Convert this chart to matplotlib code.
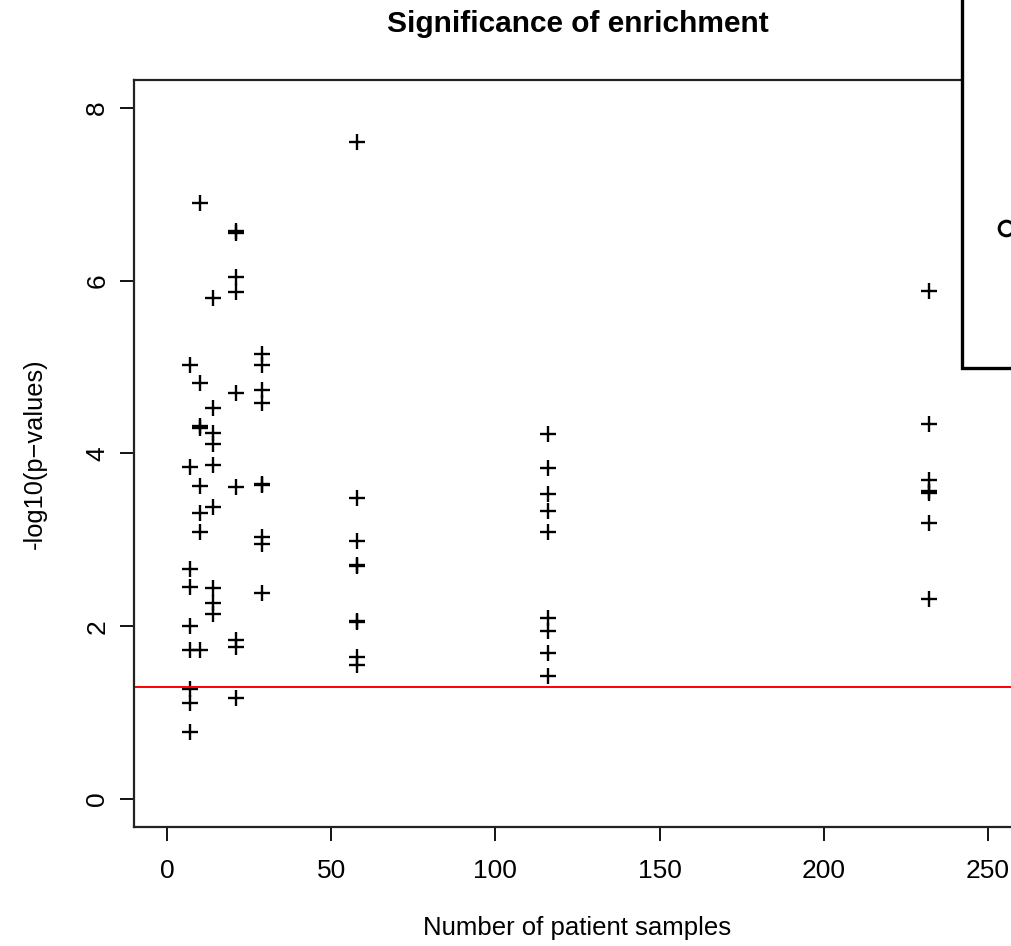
import matplotlib
matplotlib.use('Agg')
import matplotlib.pyplot as plt
from matplotlib.patches import Rectangle
from matplotlib.lines import Line2D

plt.rcParams['font.family'] = ['Liberation Sans', 'DejaVu Sans']

# number of patient samples per group and the -log10(p) of each test
samples = [7, 10, 14, 21, 29, 58, 116, 232]
pvals_7 = [5.02, 3.84, 2.66, 2.45, 2.00, 1.73, 1.27, 1.11, 0.78]
pvals_10 = [6.90, 4.81, 4.32, 4.29, 3.62, 3.31, 3.09, 1.73]
pvals_14 = [5.80, 4.52, 4.24, 4.11, 3.87, 3.38, 2.44, 2.27, 2.14]
pvals_21 = [6.57, 6.55, 6.04, 5.87, 4.70, 3.61, 1.84, 1.76, 1.17]
pvals_29 = [5.15, 5.02, 4.73, 4.58, 3.65, 3.63, 3.03, 2.95, 2.38]
pvals_58 = [7.60, 3.48, 2.99, 2.71, 2.70, 2.06, 2.05, 1.64, 1.55]
pvals_116 = [4.22, 3.83, 3.53, 3.33, 3.09, 2.09, 1.94, 1.69, 1.42]
pvals_232 = [5.88, 4.34, 3.69, 3.56, 3.54, 3.20, 2.31]
groups = [pvals_7, pvals_10, pvals_14, pvals_21, pvals_29, pvals_58, pvals_116, pvals_232]
cutoff = 1.301  # -log10(0.05)

W, H = 1012, 946
fig = plt.figure(figsize=(W / 100, H / 100), dpi=100)
# plot region runs past the right edge of the picture (cropped R plot)
ax = fig.add_axes([134.2 / W, 1 - 826.6 / H, 886.6 / W, 746.4 / H])

for n, vals in zip(samples, groups):
    ax.plot([n] * len(vals), vals, linestyle='none', marker='+', color='black',
            markersize=11, markeredgewidth=1.7)

ax.axhline(cutoff, color='red', lw=1.4)

ax.set_xlim(-10, 260)
ax.set_ylim(-0.32, 8.32)
ax.set_xticks([0, 50, 100, 150, 200, 250])
ax.set_yticks([0, 2, 4, 6, 8])
ax.tick_params(length=10, width=1.3, labelsize=19, direction='out')
ax.tick_params(axis='x', pad=13)
ax.tick_params(axis='y', pad=8)
for lab in ax.get_yticklabels():
    lab.set_rotation(90)
    lab.set_va('center')
for s in ax.spines.values():
    s.set_linewidth(1.6)
    s.set_color('#222222')

ax.set_title('Significance of enrichment', fontweight='bold', fontsize=21.5,
             y=1.075, va='center', pad=0)
ax.set_xlabel('Number of patient samples', fontsize=18.5, va='center')
ax.xaxis.set_label_coords(0.5, -0.136)
ax.set_ylabel('-log10(p\u2212values)', fontsize=18.3, va='center')
ax.yaxis.set_label_coords(-0.112, 0.5)

# legend box drawn over the top right corner, mostly cut off
fig.add_artist(Rectangle((962 / W, 1 - 368 / H), 0.2, 0.5, transform=fig.transFigure,
                         facecolor='white', edgecolor='black', lw=2.4, zorder=5))
fig.add_artist(Line2D([1006.5 / W], [1 - 228 / H], transform=fig.transFigure,
                      marker='o', markersize=10.5, markerfacecolor='none',
                      markeredgecolor='black', markeredgewidth=2.2, zorder=6))

plt.savefig('out.png', dpi=100)
